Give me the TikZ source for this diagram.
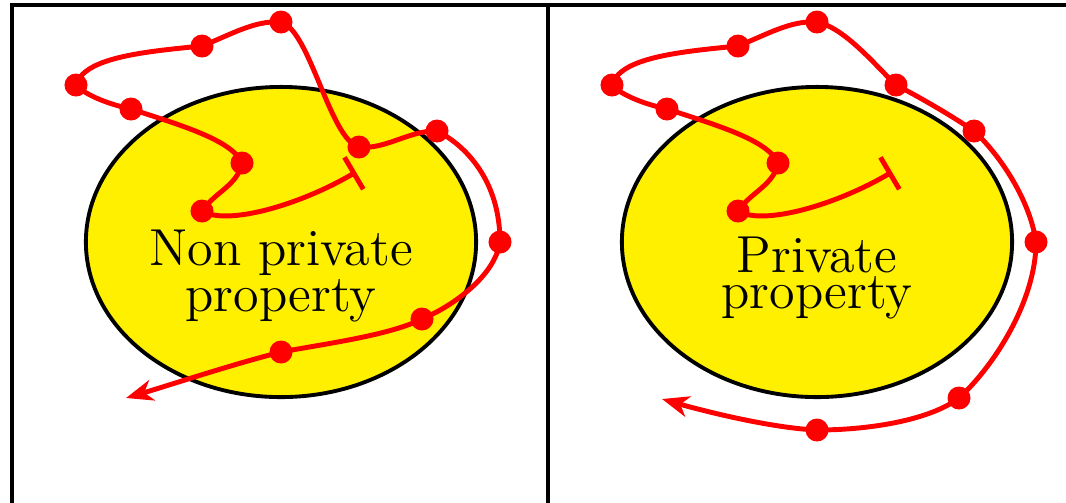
\documentclass[tikz,border=0pt]{standalone}
\usepackage{xcolor}
\usepackage{tikz}
\usetikzlibrary{shapes.geometric, arrows.meta}
\definecolor{fieldyellow}{RGB}{255, 240, 0}
\definecolor{walkred}{RGB}{255, 0, 0}
\begin{document}
\begin{tikzpicture}[x=0.01cm, y=-0.01cm,
        frame/.style={line width=1.1pt, color=black},
        property/.style={ellipse, draw=black, fill=fieldyellow, line width=1.1pt, minimum width=3.9cm, minimum height=3.1cm, inner sep=0pt},
        caption/.style={align=center, inner sep=0pt, font=\fontsize{14.8}{10}\selectfont},
        stop/.style={circle, fill=walkred, inner sep=0pt, minimum size=2.3mm},
        walk/.style={{Bar[width=3.7mm]}-{Stealth[length=2.7mm, width=2.1mm, inset=0.8mm]}, draw=walkred, line width=1.4pt}
    ]
        \useasboundingbox (0,0) rectangle (1066,502);
        \clip (0,0) rectangle (1066,502);
        \draw[frame] (12,560) |- (1120,5);
        \draw[frame] (548,5) -- (548,560);

        \node[property] (nonprivate) at (281,242) {};
        \node[property] (private) at (817,242) {};
        \node[caption] (nonprivatetext) at (281,276) {Non private\\property};
        \node[caption] (privatetext) at (817,278) {Private\\property};

        \coordinate (astart) at (356,172);
        \node[stop] (a1) at (202,211) {};
        \node[stop] (a2) at (242,163) {};
        \node[stop] (a3) at (131,109) {};
        \node[stop] (a4) at (76,85) {};
        \node[stop] (a5) at (202,46) {};
        \node[stop] (a6) at (281,22) {};
        \node[stop] (a7) at (359,147) {};
        \node[stop] (a8) at (437,131) {};
        \node[stop] (a9) at (500,242) {};
        \node[stop] (a10) at (422,319) {};
        \node[stop] (a11) at (281,352) {};
        \coordinate (aend) at (126,398);

        \coordinate (bstart) at (892,172);
        \node[stop] (b1) at (738,211) {};
        \node[stop] (b2) at (778,163) {};
        \node[stop] (b3) at (667,109) {};
        \node[stop] (b4) at (612,85) {};
        \node[stop] (b5) at (738,46) {};
        \node[stop] (b6) at (817,22) {};
        \node[stop] (b7) at (896,85) {};
        \node[stop] (b8) at (974,131) {};
        \node[stop] (b9) at (1036,242) {};
        \node[stop] (b10) at (959,398) {};
        \node[stop] (b11) at (817,430) {};
        \coordinate (bend) at (662,399);

        \draw[walk] (astart) .. controls (300,205) and (227,226) .. (a1.center)
            .. controls (215,192) and (238,185) .. (a2.center)
            .. controls (232,140) and (180,125) .. (a3.center)
            .. controls (112,105) and (86,96) .. (a4.center)
            .. controls (84,58) and (140,52) .. (a5.center)
            .. controls (230,35) and (255,20) .. (a6.center)
            .. controls (310,30) and (330,140) .. (a7.center)
            .. controls (385,150) and (410,130) .. (a8.center)
            .. controls (465,145) and (500,180) .. (a9.center)
            .. controls (495,275) and (455,305) .. (a10.center)
            .. controls (390,335) and (330,343) .. (a11.center)
            .. controls (230,365) and (170,385) .. (aend);

        \draw[walk] (bstart) .. controls (836,205) and (763,226) .. (b1.center)
            .. controls (751,192) and (774,185) .. (b2.center)
            .. controls (768,140) and (716,125) .. (b3.center)
            .. controls (648,105) and (622,96) .. (b4.center)
            .. controls (620,58) and (676,52) .. (b5.center)
            .. controls (766,35) and (791,20) .. (b6.center)
            .. controls (845,28) and (875,65) .. (b7.center)
            .. controls (925,100) and (955,118) .. (b8.center)
            .. controls (1000,155) and (1030,200) .. (b9.center)
            .. controls (1036,300) and (995,365) .. (b10.center)
            .. controls (930,420) and (870,430) .. (b11.center)
            .. controls (770,428) and (700,410) .. (bend);
    \end{tikzpicture}
\end{document}
